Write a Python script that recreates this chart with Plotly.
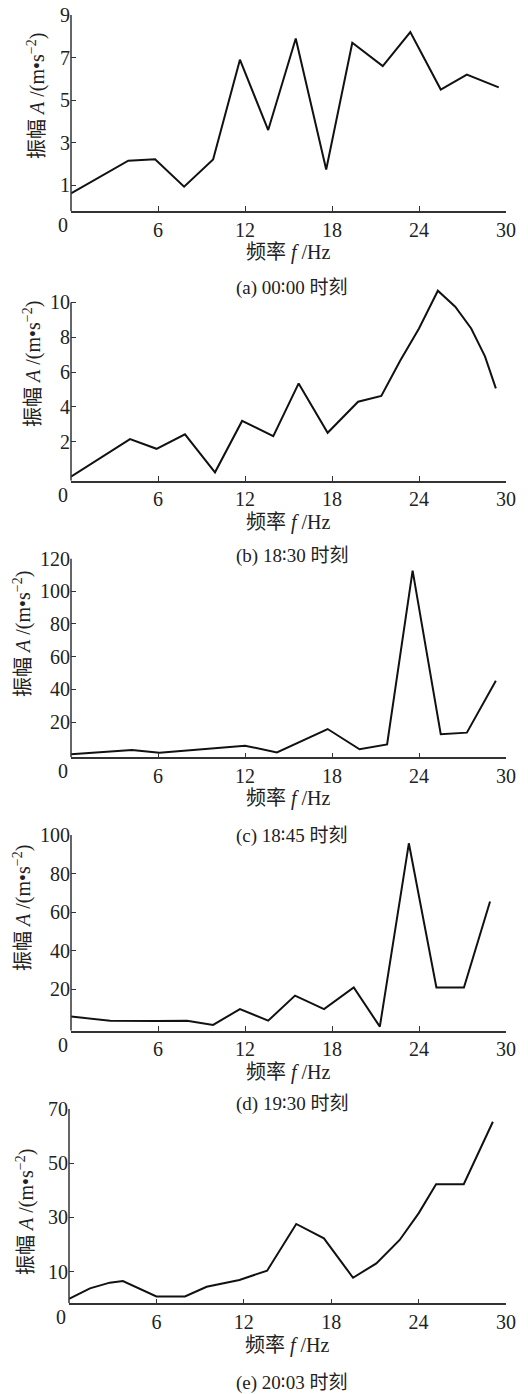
import plotly.graph_objects as go

# ---------------- data ----------------
a_f = [0, 3.95, 5.8, 7.8, 9.8, 11.65, 13.6, 15.5, 17.6, 19.4, 21.5, 23.4, 25.5, 27.3, 29.5]
a_A = [0.63, 2.16, 2.23, 0.94, 2.22, 6.9, 3.6, 7.9, 1.75, 7.7, 6.6, 8.2, 5.5, 6.2, 5.6]

b_f = [0, 4.07, 5.9, 7.86, 9.93, 11.8, 13.95, 15.7, 17.7, 19.8, 21.4, 22.7, 24.0, 25.3, 26.5, 27.6, 28.55, 29.3]
b_A = [0.0, 2.16, 1.6, 2.43, 0.25, 3.2, 2.33, 5.35, 2.52, 4.3, 4.63, 6.65, 8.5, 10.67, 9.75, 8.5, 6.9, 5.07]

c_f = [0, 4.2, 6.1, 12.0, 14.2, 17.7, 19.9, 21.8, 23.56, 25.5, 27.3, 29.3]
c_A = [0.2, 2.9, 1.2, 5.5, 1.4, 15.7, 3.3, 6.3, 112.6, 12.5, 13.5, 45.3]

d_f = [0, 2.7, 5.9, 8.0, 9.8, 11.65, 13.6, 15.45, 17.45, 19.5, 21.3, 23.3, 25.2, 27.1, 28.9]
d_A = [5.9, 3.8, 3.6, 3.8, 1.6, 9.8, 3.8, 16.8, 9.8, 21.0, 0.7, 95.7, 21.0, 21.0, 65.5]

e_f = [0, 1.44, 2.8, 3.7, 6.0, 7.96, 9.45, 11.7, 13.6, 15.6, 17.5, 19.5, 21.1, 22.7, 24.0, 25.2, 27.1, 29.1]
e_A = [0.0, 3.9, 6.0, 6.6, 0.9, 0.9, 4.5, 7.0, 10.4, 27.6, 22.3, 7.8, 13.1, 21.7, 31.5, 42.2, 42.2, 65.2]

panel_tags = ["(a)", "(b)", "(c)", "(d)", "(e)"]
panel_times = [("00", "00"), ("18", "30"), ("18", "45"), ("19", "30"), ("20", "03")]
x_ticks = [6, 12, 18, 24, 30]
y_ticks = [[1, 3, 5, 7, 9], [2, 4, 6, 8, 10], [20, 40, 60, 80, 100, 120],
           [20, 40, 60, 80, 100], [10, 30, 50, 70]]
y_ranges = [[-0.2, 9.0], [-0.23, 10.9], [-1.6, 120], [-1.4, 100], [-1.6, 70]]

series = [(a_f, a_A), (b_f, b_A), (c_f, c_A), (d_f, d_A), (e_f, e_A)]

# ---------------- layout geometry (pixels in a 528x1394 page) ----------------
W, H = 528, 1394
panel_px = [(15, 211), (286.7, 480.7), (558.6, 757.3), (835, 1030.7), (1108.7, 1303.3)]
x_px = [(71, 506), (71, 506), (71, 506), (71, 506), (69, 506)]
xtitle_y = [252, 522, 799, 1072, 1345]
caption_y = [288, 555, 835, 1103, 1382]
ytitle_pos = [(37, 96), (32, 364), (22, 634), (22, 908), (25, 1212)]

SERIF = "Liberation Serif, DejaVu Serif, Noto Sans CJK SC, serif"
INK = "#222222"
AXIS = "#333333"

fig = go.Figure()
annotations = []
shapes = []

for i, (fx, fy) in enumerate(series):
    n = "" if i == 0 else str(i + 1)
    xa, ya = "x" + n, "y" + n
    fig.add_trace(go.Scatter(x=fx, y=fy, mode="lines", xaxis=xa, yaxis=ya,
                             line=dict(color="#111111", width=2), showlegend=False,
                             hoverinfo="skip"))
    top, bot = panel_px[i]
    l, r = x_px[i]
    axis_common = dict(linecolor=AXIS, linewidth=1.5,
                       ticks="inside", ticklen=5, tickwidth=1, tickcolor=AXIS,
                       showgrid=False, zeroline=False, automargin=False,
                       tickfont=dict(family=SERIF, size=20, color=INK))
    fig.layout["xaxis" + n] = dict(
        axis_common, showline=True, domain=[l / W, r / W], range=[0, 30], anchor=ya,
        tickmode="array", tickvals=x_ticks, ticktext=[str(t) for t in x_ticks])
    fig.layout["yaxis" + n] = dict(
        axis_common, showline=False, domain=[1 - bot / H, 1 - top / H], range=y_ranges[i],
        anchor=xa, tickmode="array", tickvals=y_ticks[i],
        ticktext=[str(t) for t in y_ticks[i]])
    # vertical axis line: from the bottom of the axis up to its highest tick
    shapes.append(dict(type="line", xref=xa + " domain", yref=ya, x0=0, x1=0,
                       y0=y_ranges[i][0], y1=max(y_ticks[i]),
                       line=dict(color=AXIS, width=1.5)))

    # origin "0" label (shared corner label)
    annotations.append(dict(text="0", xref=xa, yref=ya, x=0, y=y_ranges[i][0],
                            xanchor="right", yanchor="top", xshift=-1, yshift=-1,
                            showarrow=False, font=dict(family=SERIF, size=20, color=INK)))
    # x axis title
    annotations.append(dict(text="频率 <i>f</i> /Hz", xref="paper", yref="paper",
                            x=((l + r) / 2) / W, y=1 - xtitle_y[i] / H,
                            xanchor="center", yanchor="middle", showarrow=False,
                            font=dict(family=SERIF, size=20, color=INK)))
    # y axis title
    tx, ty = ytitle_pos[i]
    annotations.append(dict(text="振幅 <i>A</i> /(m•s<sup>−2</sup>)", xref="paper", yref="paper",
                            x=tx / W, y=1 - ty / H, textangle=-90,
                            xanchor="center", yanchor="middle", showarrow=False,
                            font=dict(family=SERIF, size=20, color=INK)))
    # caption
    hh, mm = panel_times[i]
    cap = (panel_tags[i] + " " + hh +
           "<span style='font-family:DejaVu Sans'>∶</span>" + mm + " 时刻")
    annotations.append(dict(text=cap, xref="paper", yref="paper",
                            x=292 / W, y=1 - caption_y[i] / H,
                            xanchor="center", yanchor="middle", showarrow=False,
                            font=dict(family=SERIF, size=19, color=INK)))

fig.update_layout(template="none", width=W, height=H,
                  margin=dict(l=0, r=0, t=0, b=0, pad=0, autoexpand=False),
                  paper_bgcolor="white", plot_bgcolor="white",
                  annotations=annotations, shapes=shapes)

fig.write_html("out.html", config={"displayModeBar": False},
               post_script="document.body.style.margin='0';document.body.style.overflow='hidden';")
